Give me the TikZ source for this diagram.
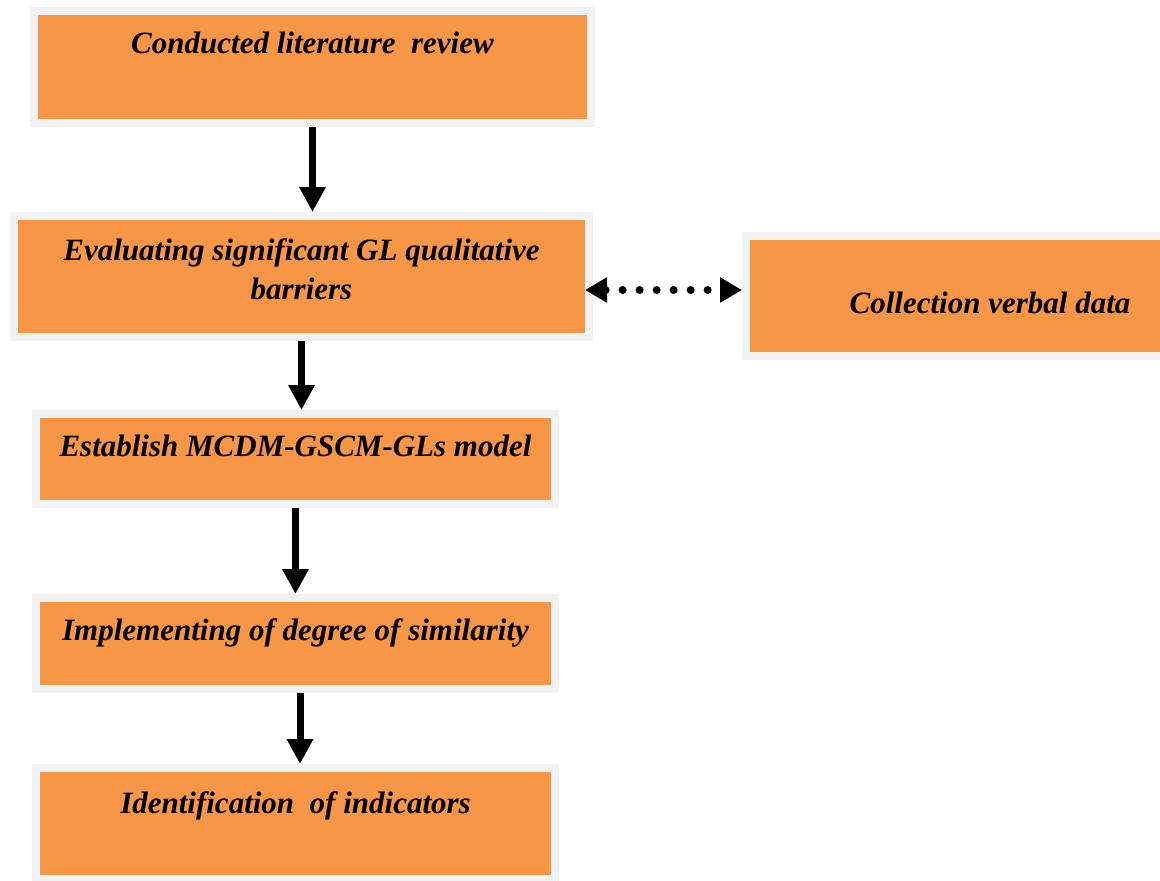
\documentclass[tikz,border=0pt]{standalone}
\usepackage{fontspec}
\setmainfont{Liberation Serif}
\usetikzlibrary{arrows.meta}
\definecolor{boxorange}{HTML}{F79646}
\definecolor{boxrim}{HTML}{F2F2F2}

\begin{document}
\begin{tikzpicture}[x=0.5pt, y=-0.5pt, >={Triangle[length=12.5pt,width=12.5pt]},
    stage/.style={draw=boxrim, line width=4pt, fill=boxorange, inner sep=0pt, align=center,
      font=\bfseries\itshape\fontsize{15.5}{18.5}\selectfont},
    flow/.style={->, line width=3.5pt}]
    \useasboundingbox (0,0) rectangle (1160,880);
    \node[stage, minimum width=278.5pt, text height=21pt, text depth=35pt] (review) at (312.5,67) {Conducted literature \ review};
    \node[stage, minimum width=287.5pt, text height=41.5pt, text depth=19pt] (barriers) at (301.5,276.5) {\smash{\shortstack{Evaluating significant GL qualitative\\[2pt]barriers}}};
    \node[stage, minimum width=244pt, text height=38.5pt, text depth=21.5pt] (verbal) at (990,296) {Collection verbal data};
    \node[stage, minimum width=259.5pt, text height=21pt, text depth=24pt] (model) at (295.5,459) {Establish MCDM-GSCM-GLs model};
    \node[stage, minimum width=259.5pt, text height=21pt, text depth=24.5pt] (similarity) at (295.5,643.5) {Implementing of degree of similarity};
    \node[stage, minimum width=259.5pt, text height=22.5pt, text depth=33pt] (indicators) at (295.5,823.5) {Identification \ of indicators};
    % vertical flow
    \draw[flow] (review.south) -- (review.south |- barriers.north);
    \draw[flow] (barriers.south) -- (barriers.south |- model.north);
    \draw[flow] (model.south) -- (model.south |- similarity.north);
    \draw[flow] ([xshift=2.25pt]similarity.south) -- ([xshift=2.25pt]similarity.south |- indicators.north);
    % verbal data link
    \draw[<->, line width=4pt, line cap=round, dash pattern=on 0pt off 8.5pt, >={Triangle[length=11pt,width=12pt]}]
        ([xshift=-4pt,yshift=-6.75pt]barriers.east) -- ([yshift=-6.75pt]barriers.east -| verbal.west);
\end{tikzpicture}
\end{document}
